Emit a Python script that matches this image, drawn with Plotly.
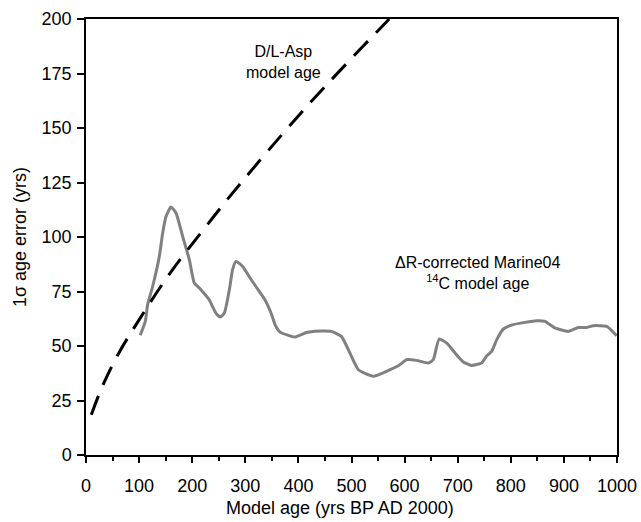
import plotly.graph_objects as go

# D/L-Asp model age error (dashed)
asp_age = [10, 30, 60, 100, 157, 220, 289, 420, 571]
asp_err = [18.5, 31, 46, 62, 83, 103, 124, 161, 200]

# Delta-R corrected Marine04 14C model age error (grey)
c14_age = [102, 111.7, 116, 125.5, 138, 144.4, 150.7, 160, 169.5, 182, 194.6, 204, 213.4, 232,
           244.6, 253, 260.5, 270, 276, 282.5, 295, 309, 320, 337, 349.6, 356, 365, 393,
           415, 428, 462, 481, 497, 513, 541, 566, 591, 603.5, 622.6, 644.6, 654, 665,
           679, 695, 710.5, 726, 745, 754.7, 764, 773.6, 786, 804.6, 848.7, 864.4, 883,
           908, 927, 943, 955.5, 980.6, 999.4]
c14_err = [54.9, 61.3, 69, 77.3, 91, 101.8, 109.4, 113.8, 111, 100.3, 89.6, 78.9, 76.6, 71.2,
           65.1, 63.3, 65.1, 75.8, 85, 88.8, 86.5, 81.2, 77.3, 71.2, 64.4, 59.8, 56.5, 54.1,
           56.2, 56.7, 56.7, 54.4, 46.8, 39.1, 36.1, 38.4, 41.4, 43.7, 43.4, 42.2, 43.7, 53.2,
           51.4, 46.8, 42.7, 41.1, 42.2, 45.5, 47.5, 52.9, 57.8, 59.8, 61.6, 61.3, 58.3,
           56.7, 58.5, 58.5, 59.3, 59, 54.7]

x_ticks = list(range(0, 1001, 100))
y_ticks = list(range(0, 201, 25))

FONT = "Liberation Sans, Arial, sans-serif"

fig = go.Figure()
fig.add_trace(go.Scatter(x=c14_age, y=c14_err, mode="lines",
                         line=dict(color="#808080", width=3, shape="spline", smoothing=0.5),
                         showlegend=False, hoverinfo="skip"))
fig.add_trace(go.Scatter(x=asp_age, y=asp_err, mode="lines",
                         line=dict(color="black", width=3, dash="20px,12px", shape="spline", smoothing=1),
                         showlegend=False, hoverinfo="skip"))

fig.update_layout(
    width=641, height=522,
    margin=dict(l=86, r=24, t=19, b=67, autoexpand=False),
    paper_bgcolor="white", plot_bgcolor="white",
    font=dict(family=FONT, size=18, color="black"),
    xaxis=dict(range=[0, 1000], tickvals=x_ticks, ticktext=[str(v) for v in x_ticks],
               showgrid=False, zeroline=False, showline=True, linecolor="black", linewidth=1.5,
               mirror=True, ticks="outside", ticklen=6, tickwidth=1.5, tickcolor="black",
               minor=dict(dtick=50, ticks="outside", ticklen=4, tickwidth=1.5, tickcolor="black", showgrid=False),
               tickfont=dict(size=18), ticklabelstandoff=8, automargin=False),
    yaxis=dict(range=[0, 200], tickvals=y_ticks, ticktext=[str(v) for v in y_ticks],
               showgrid=False, zeroline=False, showline=True, linecolor="black", linewidth=1.5,
               mirror=True, ticks="outside", ticklen=7, tickwidth=1.5, tickcolor="black",
               tickfont=dict(size=18), ticklabelstandoff=2, automargin=False,
               title=dict(text="1σ age error (yrs)", font=dict(size=18), standoff=10)),
    annotations=[
        dict(x=372, y=180.5, xref="x", yref="y", text="D/L-Asp<br>model age", showarrow=False,
             font=dict(size=16), align="center"),
        dict(x=738, y=83.5, xref="x", yref="y", text="ΔR-corrected Marine04<br><sup>14</sup>C model age",
             showarrow=False, font=dict(size=16), align="center"),
        dict(x=478, y=-(508 - 455) / (455 - 19), xref="x", yref="paper",
             text="Model age (yrs BP AD 2000)", showarrow=False,
             font=dict(size=18), yanchor="middle"),
    ],
)

fig.write_html("out.html", config={"displayModeBar": False},
               post_script="document.body.style.margin='0px';")
